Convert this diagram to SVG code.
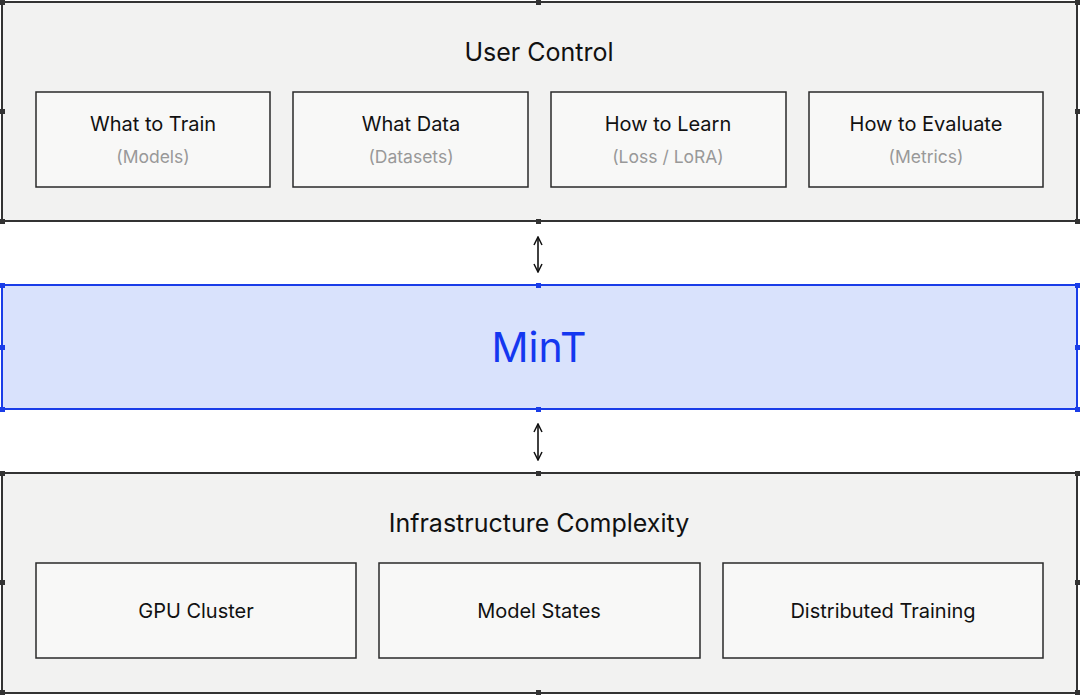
<svg xmlns="http://www.w3.org/2000/svg" width="1080" height="695" viewBox="0 0 1080 695">
<style>
text{font-family:Inter,"Noto Sans",sans-serif;text-anchor:middle}
.outer{fill:#f2f2f1;stroke:#333;stroke-width:2}
.inner{fill:#f8f8f7;stroke:#2a2a2a;stroke-width:1.5}
.h{fill:#333}
.hb{fill:#1a3de8}
.t{font-size:25px;fill:#111}
.l{font-size:20px;fill:#111}
.s{font-size:17.5px;fill:#999}
.arr{stroke:#111;stroke-width:1.6;fill:none}
</style>
<defs>
<marker id="a" viewBox="0 0 10 10" refX="9" refY="5" markerWidth="10" markerHeight="10" orient="auto-start-reverse" markerUnits="userSpaceOnUse"><path d="M1,1 L9,5 L1,9" fill="none" stroke="#111" stroke-width="1.5"/></marker>
</defs>
<g id="user-control">
<rect class="outer" x="2" y="2" width="1075" height="219"/>
<rect class="h" x="0" y="0" width="5" height="5"/><rect class="h" x="536" y="0" width="5" height="5"/><rect class="h" x="1075" y="0" width="5" height="5"/>
<rect class="h" x="0" y="109" width="5" height="5"/><rect class="h" x="1075" y="109" width="5" height="5"/>
<rect class="h" x="0" y="219" width="5" height="5"/><rect class="h" x="536" y="219" width="5" height="5"/><rect class="h" x="1075" y="219" width="5" height="5"/>
<text class="t" x="539" y="61">User Control</text>
</g>
<g id="what-to-train"><rect class="inner" x="36" y="92" width="234" height="95"/><text class="l" x="153" y="131">What to Train</text><text class="s" x="153" y="163">(Models)</text></g>
<g id="what-data"><rect class="inner" x="293" y="92" width="235" height="95"/><text class="l" x="411" y="131">What Data</text><text class="s" x="411" y="163">(Datasets)</text></g>
<g id="how-to-learn"><rect class="inner" x="551" y="92" width="235" height="95"/><text class="l" x="668" y="131">How to Learn</text><text class="s" x="668" y="163">(Loss / LoRA)</text></g>
<g id="how-to-evaluate"><rect class="inner" x="809" y="92" width="234" height="95"/><text class="l" x="926" y="131">How to Evaluate</text><text class="s" x="926" y="163">(Metrics)</text></g>
<g id="mint">
<rect x="2" y="285" width="1075" height="124" fill="#d9e2fc" stroke="#1a3de8" stroke-width="2"/>
<rect class="hb" x="0" y="283" width="5" height="5"/><rect class="hb" x="536" y="283" width="5" height="5"/><rect class="hb" x="1075" y="283" width="5" height="5"/>
<rect class="hb" x="0" y="345" width="5" height="5"/><rect class="hb" x="1075" y="345" width="5" height="5"/>
<rect class="hb" x="0" y="407" width="5" height="5"/><rect class="hb" x="536" y="407" width="5" height="5"/><rect class="hb" x="1075" y="407" width="5" height="5"/>
<text x="539" y="362" font-size="41" fill="#1437f0">MinT</text>
</g>
<g id="infrastructure">
<rect class="outer" x="2" y="473" width="1075" height="220"/>
<rect class="h" x="0" y="471" width="5" height="5"/><rect class="h" x="536" y="471" width="5" height="5"/><rect class="h" x="1075" y="471" width="5" height="5"/>
<rect class="h" x="0" y="580" width="5" height="5"/><rect class="h" x="1075" y="580" width="5" height="5"/>
<rect class="h" x="0" y="690" width="5" height="5"/><rect class="h" x="536" y="690" width="5" height="5"/><rect class="h" x="1075" y="690" width="5" height="5"/>
<text class="t" x="539" y="532">Infrastructure Complexity</text>
</g>
<g id="gpu-cluster"><rect class="inner" x="36" y="563" width="320" height="95"/><text class="l" x="196" y="618">GPU Cluster</text></g>
<g id="model-states"><rect class="inner" x="379" y="563" width="321" height="95"/><text class="l" x="539" y="618">Model States</text></g>
<g id="distributed-training"><rect class="inner" x="723" y="563" width="320" height="95"/><text class="l" x="883" y="618">Distributed Training</text></g>
<g id="connectors">
<line class="arr" x1="538" y1="237" x2="538" y2="272" marker-start="url(#a)" marker-end="url(#a)"/>
<line class="arr" x1="538" y1="424" x2="538" y2="460" marker-start="url(#a)" marker-end="url(#a)"/>
</g>
</svg>
